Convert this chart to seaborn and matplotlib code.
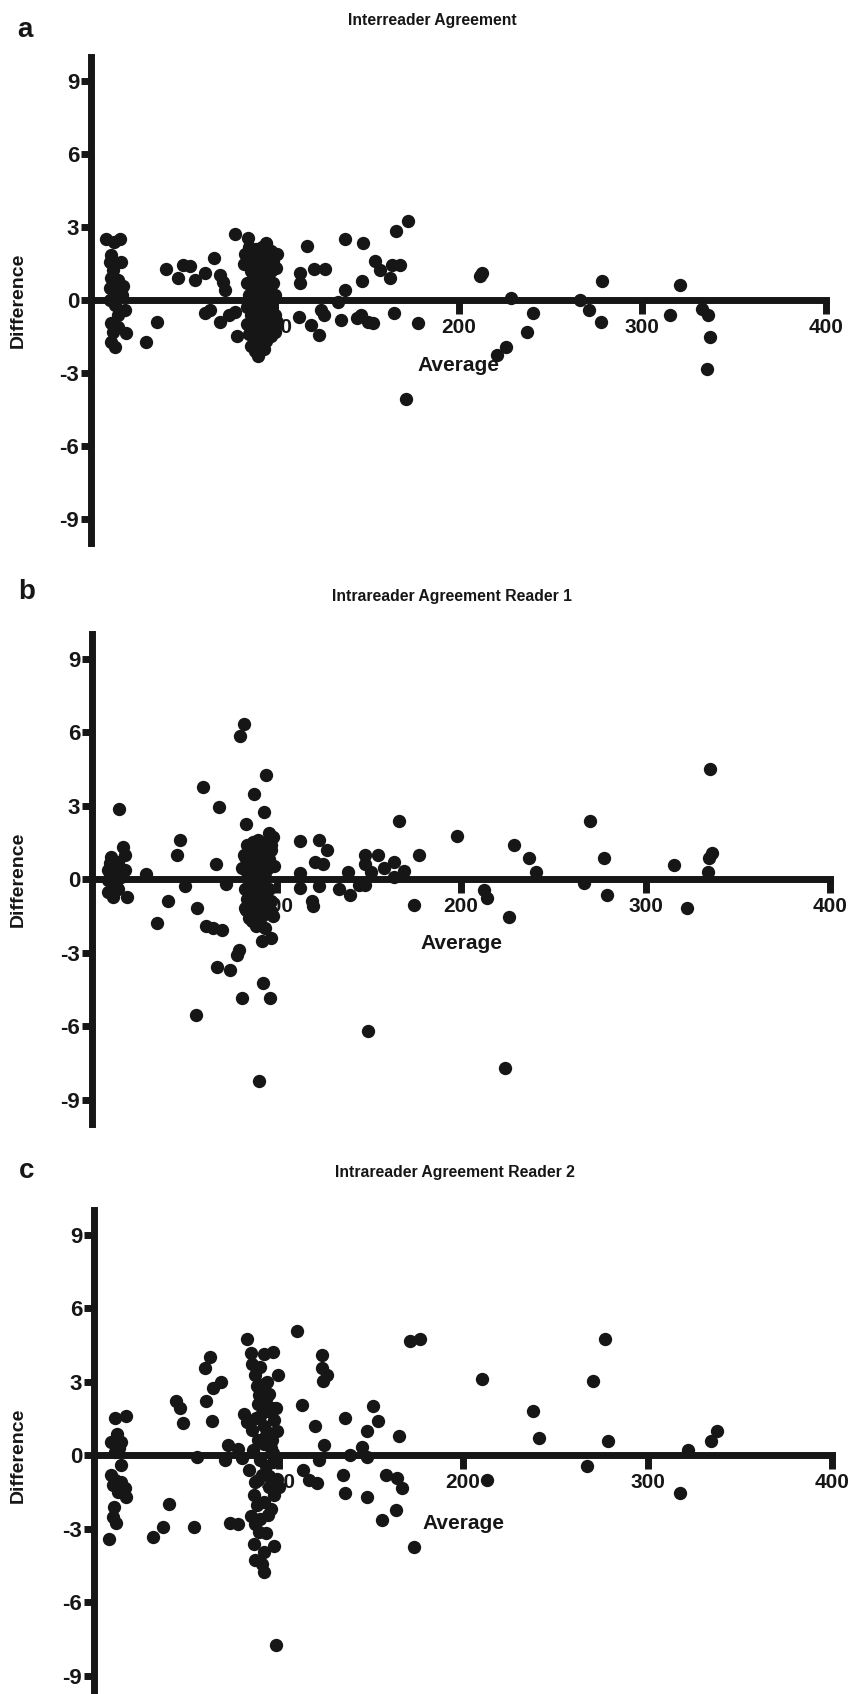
import matplotlib
matplotlib.use("Agg")
import matplotlib.pyplot as plt
import seaborn as sns

# ---------------- data ----------------
titles = ["Interreader Agreement", "Intrareader Agreement Reader 1", "Intrareader Agreement Reader 2"]
panel_letters = ["a", "b", "c"]
x_ticks = [100, 200, 300, 400]
y_ticks = [-9, -6, -3, 0, 3, 6, 9]

inter_x = [8.4, 12.6, 15.7, 10.7, 10.2, 16.2, 12.0, 11.1, 14.8, 17.5, 10.2, 13.8, 16.6, 10.2, 12.9, 18.4, 14.8, 11.1, 14.8, 19.3, 12.0, 10.7, 12.9,
           35.7, 30.2, 40.8, 47.5, 50.3, 53.9, 56.7, 62.1, 67.2, 70.3, 72.1, 73.1, 62.1, 64.9, 70.3, 74.9, 78.5, 79.4, 78.5, 85.4, 95.0,
           83, 84, 85, 85, 85, 86, 86, 86, 87, 87, 87, 88, 88, 88, 88, 89, 89, 89, 89, 90, 90, 90, 90, 91, 91, 91, 91, 92, 92, 92, 92,
           93, 93, 93, 93, 94, 94, 94, 94, 95, 95, 95, 95, 96, 96, 96, 97, 97, 97, 98, 98, 98, 98, 99, 99, 99, 100, 100, 100,
           101, 100.5, 100, 101,
           117.7, 121.4, 127.3, 114, 114, 113, 138, 148.1, 154.6, 157.4, 162.9, 163.9, 168, 166, 172.7, 147.6, 138.4, 134.3, 125.1, 126.9,
           119.5, 124.2, 136.1, 144.5, 146.9, 150.9, 153.7, 164.8, 177.7, 171.2, 211.5, 212.8, 228.8, 240.5, 237.1, 226, 221, 266.3,
           270.9, 277.9, 277.5, 315.2, 320.7, 332.7, 335.9, 337, 335.1]
inter_y = [2.5, 2.4, 2.5, 1.85, 1.58, 1.58, 1.23, 0.9, 0.82, 0.58, 0.48, 0.34, 0.2, 0.0, -0.2, -0.41, -0.62, -0.96, -1.1, -1.37, -1.3, -1.71, -1.92,
           -0.89, -1.71, 1.28, 0.9, 1.44, 1.4, 0.82, 1.1, 1.71, 1.03, 0.75, 0.41, -0.55, -0.41, -0.89, -0.62, -0.48, -1.48, 2.7, 2.54, 2.33,
           1.5, 1.9, 0.7, -0.3, -1.0, 2.2, 0.2, -1.4, 1.2, -0.6, -1.9, 2.0, 0.9, -0.1, -1.2, 1.6, 0.4, -0.8, -2.1, 2.1, 1.0, -0.4, -1.6,
           1.4, 0.1, -1.1, -2.3, 1.8, 0.6, -0.7, -1.8, 2.2, 1.1, -0.2, -1.4, 1.5, 0.3, -1.0, -2.0, 2.3, 0.8, -0.5, -1.7, 1.3, 0.0, -1.2,
           1.9, 0.5, -0.9, 2.0, 1.2, -0.3, -1.5, 0.7, -0.8, 1.6, 0.2, -1.1, -0.6,
           1.9, 1.3, -1.3, -0.9,
           2.22, 1.28, 1.29, 1.1, 0.7, -0.7, 2.53, 2.33, 1.6, 1.22, 0.9, 1.42, 1.42, 2.82, 3.24, 0.8, 0.42, -0.07, -0.42, -0.63,
           -1.04, -1.42, -0.81, -0.76, -0.63, -0.9, -0.93, -0.53, -0.93, -4.06, 1.0, 1.11, 0.07, -0.53, -1.32, -1.92, -2.25, 0.0,
           -0.42, 0.8, -0.92, -0.63, 0.6, -0.39, -0.63, -1.53, -2.85]

r1_x = [16.8, 17.8, 10.5, 9.6, 14.1, 17.8, 8.7, 12.3, 15.9, 8.7, 13.2, 8.7, 11.4, 19.2, 14.5, 11.0, 14.0,
        29, 47.5, 46, 50.3, 41.3, 35.5, 56.8, 67, 72.6, 62, 65.4, 70.7, 79.7, 78.6, 67.8, 74.7, 56.1, 60.3, 68.7, 80.1, 82.2,
        81.3, 81.3, 82.2, 83.7, 83.7, 87.6, 92.7, 94.2, 93.3, 96.6, 90.6, 95.7, 97.2, 98.7, 97.2, 97.2, 92.1, 91.2, 89.7, 86.7,
        83, 83, 83, 84, 84, 84, 85, 85, 85, 86, 86, 86, 87, 87, 87, 87, 88, 88, 88, 89, 89, 89, 89, 90, 90, 90, 90, 91, 91, 91,
        92, 92, 92, 92, 93, 93, 93, 94, 94, 94, 94, 95, 95, 95, 96, 96, 97, 97, 98, 98,
        112.5, 113, 113, 119, 120, 121, 123, 123, 125, 127.5, 134, 138.5, 140, 144.6, 148.2, 147.8, 148.2, 151, 149.5, 155,
        158.3, 163.7, 163.7, 166.5, 169.3, 174.7, 177, 198, 212.2, 214, 224.1, 226, 228.6, 236.6, 240.4, 266.6, 270.1, 277.5,
        279.2, 315.4, 322.5, 333.8, 334.6, 336.2, 334.9]
r1_y = [1.29, 0.98, 0.91, 0.64, 0.71, 0.37, 0.37, 0.23, 0.1, -0.04, -0.24, -0.52, -0.75, -0.75, 2.84, 0.1, -0.4,
        0.2, 1.6, 1.0, -0.3, -0.9, -1.8, -1.2, 0.6, -0.2, -1.9, -2.0, -2.1, -2.9, -3.1, -3.6, -3.7, -5.54, 3.74, 2.94, 5.84, 6.32,
        -4.84, 0.45, 0.96, 2.23, -1.25, 3.45, -4.26, 4.26, 2.74, -4.84, -8.25, 1.86, 1.39, 0.55, -1.29, -2.41, -2.52, -1.87, 1.54, -1.72,
        0.9, -0.4, -1.2, 1.4, 0.3, -0.8, 0.6, -0.2, -1.6, 1.1, 0.0, -1.0, 1.5, 0.4, -0.5, -1.4, 0.8, -0.1, -0.9, 1.2, 0.2, -0.6, -1.9,
        1.6, 0.5, -0.3, -1.2, 0.9, 0.0, -0.8, 1.3, 0.3, -0.5, -1.5, 0.7, -0.2, -1.1, 1.1, 0.1, -0.7, -2.0, 1.5, 0.4, -1.3, 0.8, -0.4,
        1.2, -0.9, 1.7, -1.5,
        1.57, 0.25, -0.35, -0.9, -1.1, 0.69, 1.58, -0.28, 0.61, 1.18, -0.41, 0.29, -0.65, -0.25, -0.25, 0.99, 0.62, 0.28, -6.2, 0.98,
        0.45, 0.69, 0.08, 2.38, 0.34, -1.05, 0.98, 1.77, -0.43, -0.77, -7.7, -1.57, 1.37, 0.85, 0.28, -0.17, 2.38, 0.86,
        -0.66, 0.56, -1.18, 0.27, 0.86, 1.08, 4.48]

r2_x = [11.6, 17.6, 12.7, 9.4, 14.9, 11.2, 14.9, 9.4, 10.3, 14.9, 16.7, 17.6, 13.0, 10.9, 10.3, 12.1, 7.9, 13.5, 11.5,
        40.8, 37.5, 32.1, 54.3, 44.5, 46.6, 48.4, 60.2, 62.9, 64.7, 68.6, 60.7, 64.1, 55.6, 71, 72.8, 78.3, 80.1, 73.7, 78.3,
        83, 85, 85.9, 87.4, 88.3, 89.5, 91.9, 97.2, 99.9, 92.4, 81.5, 83, 85.9, 88.9, 96.3, 98.7, 97.8, 96.3, 97.2, 88.9, 91.9,
        93.3, 94.8, 99.3, 97.8, 94.2, 87.4, 86.5, 88.3, 85.3, 87.4, 89.5, 86.5, 87.4, 91.3, 91.9, 97.8, 92.4, 98.4,
        90, 92, 94, 95, 93, 90, 94, 86, 90, 95, 92, 90, 96, 84, 89, 93, 91, 96, 100, 99, 88, 95, 97, 93,
        109.8, 113, 119.8, 124.9, 121.8, 113.5, 116.5, 120.8, 123.8, 123.8, 126.3, 124, 136, 138.5, 134.7, 136, 145.3, 148, 148,
        151.4, 153.8, 148, 158.2, 156, 164, 166.7, 163.5, 165.1, 171.4, 176.9, 173.2, 210.1, 213.2, 237.9, 241.3, 267.3, 270.6,
        276.9, 278.4, 317.7, 321.7, 334.3, 337.4]
r2_y = [1.5, 1.6, 0.84, 0.52, 0.54, 0.14, -0.41, -0.82, -1.22, -1.09, -1.36, -1.7, -1.5, -2.11, -2.52, -2.79, -3.43, 0.3, -1.0,
        -2.01, -2.93, -3.33, -2.93, 2.22, 1.9, 1.29, 3.54, 4.01, 2.72, 2.96, 2.2, 1.39, -0.1, -0.2, 0.41, 0.25, -0.12, -2.79, -2.82,
        4.72, 4.17, 3.72, 3.27, 2.83, 2.46, 4.12, 4.2, 3.27, 2.9, 1.68, 1.34, 1.04, 2.08, 1.93, 1.9, 1.41, 0.62, 0.07, 0.6, 0.45,
        -0.45, -0.86, -0.97, -1.64, -2.46, -1.12, -1.64, -2.05, -2.5, -2.83, -3.13, -3.65, -4.29, -4.46, -4.76, -3.72, -3.94, -7.74,
        1.6, 1.2, 1.8, 0.9, 2.3, 3.6, 3.0, 0.2, -0.2, -1.3, -1.9, -2.6, -2.2, -0.6, -1.0, -3.2, -0.8, 0.3, -1.3, 1.0, 1.5, 2.5, -0.3, 0.8,
        5.05, 2.03, 1.2, 0.41, -0.21, -0.61, -1.03, -1.14, 4.07, 3.57, 3.25, 3.03, 1.52, 0.0, -0.82, -1.54, 0.31, 1.0, -0.1,
        2.02, 1.39, -1.72, -0.83, -2.66, -0.92, -1.35, -2.26, 0.79, 4.65, 4.74, -3.77, 3.12, -1.04, 1.81, 0.68, -0.43, 3.02,
        4.74, 0.58, -1.54, 0.2, 0.58, 0.99]

series = [(inter_x, inter_y), (r1_x, r1_y), (r2_x, r2_y)]

# ---------------- style ----------------
sns.set_style("ticks")
plt.rcParams['font.family'] = ['Liberation Sans', 'DejaVu Sans']
plt.rcParams['font.weight'] = 'bold'
plt.rcParams['axes.unicode_minus'] = False

INK = '#161616'
W, H = 863, 1694

fig = plt.figure(figsize=(W / 100, H / 100), dpi=100)
fig.patch.set_facecolor('white')

# axes rectangles in pixels: x of value 0, x of value 400, y of top (+10), y of bottom (-10)
rects_px = [(91, 826, 57, 543), (92, 830, 634, 1124), (94, 832, 1210, 1700)]
title_px = [(432, 20), (452, 596), (455, 1173)]
letter_px = [(25, 30), (27, 592), (27, 1171)]
xlabel_val = [-2.7, -2.65, -2.8]

for i, ((xs, ys), (x0, x1, t, b)) in enumerate(zip(series, rects_px)):
    ax = fig.add_axes([x0 / W, 1 - b / H, (x1 - x0) / W, (b - t) / H])
    ax.patch.set_alpha(0)
    sns.scatterplot(x=xs, y=ys, ax=ax, s=92, color=INK, linewidth=0, zorder=3, legend=False)
    ax.set_xlim(0, 400)
    ax.set_ylim(-10, 10)
    ax.spines['top'].set_visible(False)
    ax.spines['right'].set_visible(False)
    ax.spines['bottom'].set_position(('data', 0))
    for sp in ('left', 'bottom'):
        ax.spines[sp].set_linewidth(5)
        ax.spines[sp].set_color(INK)
    ax.set_xticks(x_ticks)
    ax.set_yticks(y_ticks)
    ax.tick_params(axis='both', direction='out', width=5, color=INK, labelcolor=INK)
    ax.tick_params(axis='x', length=10, labelsize=15, pad=3)
    ax.tick_params(axis='y', length=7.5, labelsize=16, pad=1)
    for lab in ax.get_xticklabels() + ax.get_yticklabels():
        lab.set_fontweight('bold')
    ax.set_axisbelow(True)

    ax.set_xlabel('Average', fontsize=15, fontweight='bold', color=INK)
    ax.xaxis.set_label_coords(0.5, (xlabel_val[i] + 10) / 20)
    ax.xaxis.label.set_va('center')
    ax.set_ylabel('Difference', fontsize=14, fontweight='bold', color=INK)
    ax.yaxis.set_label_coords((18 - x0) / (x1 - x0), 0.5)
    ax.yaxis.label.set_va('center')

    tx, ty = title_px[i]
    fig.text(tx / W, 1 - ty / H, titles[i], ha='center', va='center', fontsize=11.3,
             fontweight='bold', color=INK)
    lx, ly = letter_px[i]
    fig.text(lx / W, 1 - ly / H, panel_letters[i], ha='center', va='center', fontsize=20,
             fontweight='bold', color=INK)

fig.savefig('out.png', dpi=100, facecolor='white')
